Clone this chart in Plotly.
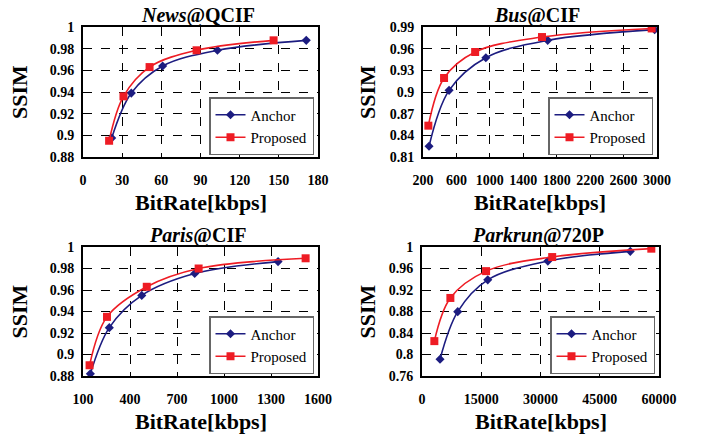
import plotly.graph_objects as go

# ---------------- data ----------------
news_anchor_x = [22, 37, 61, 103, 171]
news_anchor_y = [0.8975, 0.939, 0.964, 0.9785, 0.9877]
news_prop_x = [20, 31, 51, 87, 146]
news_prop_y = [0.895, 0.936, 0.963, 0.9785, 0.9877]

bus_anchor_x = [272, 512, 952, 1692, 2972]
bus_anchor_y = [0.8248, 0.9023, 0.9475, 0.9715, 0.9863]
bus_prop_x = [264, 452, 824, 1624, 2936]
bus_prop_y = [0.8534, 0.9194, 0.9554, 0.9761, 0.988]

paris_anchor_x = [147, 268, 475, 813, 1345]
paris_anchor_y = [0.882, 0.925, 0.955, 0.9753, 0.9864]
paris_prop_x = [142, 253, 507, 838, 1521]
paris_prop_y = [0.890, 0.935, 0.963, 0.980, 0.9895]

park_anchor_x = [4563, 9042, 16648, 31859, 52732]
park_anchor_y = [0.7912, 0.8797, 0.9389, 0.9738, 0.9919]
park_prop_x = [3127, 7183, 16225, 32958, 58056]
park_prop_y = [0.8249, 0.9052, 0.9551, 0.9813, 0.9969]

titles = ["<b><i>News</i>@QCIF</b>", "<b><i>Bus</i>@CIF</b>",
          "<b><i>Paris</i>@CIF</b>", "<b><i>Parkrun</i>@720P</b>"]

news_xticks = [0, 30, 60, 90, 120, 150, 180]
news_yticks = [0.88, 0.9, 0.92, 0.94, 0.96, 0.98, 1]
news_yticktext = ["0.88", "0.9", "0.92", "0.94", "0.96", "0.98", "1"]

bus_xticks = [200, 600, 1000, 1400, 1800, 2200, 2600, 3000]
bus_yticks = [0.81, 0.84, 0.87, 0.9, 0.93, 0.96, 0.99]
bus_yticktext = ["0.81", "0.84", "0.87", "0.9", "0.93", "0.96", "0.99"]

paris_xticks = [100, 400, 700, 1000, 1300, 1600]
paris_yticks = [0.88, 0.9, 0.92, 0.94, 0.96, 0.98, 1]
paris_yticktext = ["0.88", "0.9", "0.92", "0.94", "0.96", "0.98", "1"]

park_xticks = [0, 15000, 30000, 45000, 60000]
park_yticks = [0.76, 0.8, 0.84, 0.88, 0.92, 0.96, 1]
park_yticktext = ["0.76", "0.8", "0.84", "0.88", "0.92", "0.96", "1"]

series_names = ["Anchor", "Proposed"]
x_title = "BitRate[kbps]"
y_title = "SSIM"

# ---------------- style ----------------
OFF = 8                       # page body margin in the browser
W, H = 706 - OFF, 437 - OFF   # figure size so the page fits the window
FONT = "Liberation Serif"
ANCHOR_COLOR = "#1C1C80"
PROP_COLOR = "#EE1C24"


def px_x(X):
    return (X - OFF) / W


def px_y(Y):
    return 1 - (Y - OFF) / H


# plot areas in window pixels: (left, right, top, bottom)
boxes = [(83, 318, 27, 157), (423, 657, 27, 157),
         (83, 318, 247, 376), (422, 659, 247, 376)]
ranges_x = [[0, 180], [200, 3000], [100, 1600], [0, 60000]]
ranges_y = [[0.88, 1.0], [0.81, 0.99], [0.88, 1.0], [0.76, 1.0]]
xticks = [news_xticks, bus_xticks, paris_xticks, park_xticks]
yticks = [news_yticks, bus_yticks, paris_yticks, park_yticks]
ytext = [news_yticktext, bus_yticktext, paris_yticktext, park_yticktext]
data = [
    (news_anchor_x, news_anchor_y, news_prop_x, news_prop_y),
    (bus_anchor_x, bus_anchor_y, bus_prop_x, bus_prop_y),
    (paris_anchor_x, paris_anchor_y, paris_prop_x, paris_prop_y),
    (park_anchor_x, park_anchor_y, park_prop_x, park_prop_y),
]
ylab_x = [19, 367, 19, 367]

fig = go.Figure()
layout = dict(
    width=W, height=H, margin=dict(l=0, r=0, t=0, b=0, autoexpand=False),
    paper_bgcolor="white", plot_bgcolor="white",
    font=dict(family=FONT, color="black"),
    showlegend=True,
)
annotations = []

for i in range(4):
    n = "" if i == 0 else str(i + 1)
    l, r, t, b = boxes[i]
    ax, ay, px, py = data[i]
    leg = "legend" if i == 0 else "legend" + str(i + 1)
    fig.add_trace(go.Scatter(
        x=ax, y=ay, name=series_names[0], mode="lines+markers",
        line=dict(color=ANCHOR_COLOR, width=1.6, shape="spline", smoothing=1),
        marker=dict(symbol="diamond", size=7, color=ANCHOR_COLOR),
        xaxis="x" + n, yaxis="y" + n, legend=leg))
    fig.add_trace(go.Scatter(
        x=px, y=py, name=series_names[1], mode="lines+markers",
        line=dict(color=PROP_COLOR, width=1.6, shape="spline", smoothing=1),
        marker=dict(symbol="square", size=8, color=PROP_COLOR),
        xaxis="x" + n, yaxis="y" + n, legend=leg))

    common = dict(
        showline=True, linecolor="black", linewidth=2, mirror=True,
        showgrid=True, gridcolor="black", gridwidth=0.8, griddash="dash",
        zeroline=False, ticks="inside", ticklen=4, tickcolor="black",
        tickfont=dict(family=FONT, size=14, weight="bold", color="black"),
        automargin=False,
    )
    layout["xaxis" + n] = dict(
        common, domain=[px_x(l), px_x(r)], range=ranges_x[i], anchor="y" + n,
        tickmode="array", tickvals=xticks[i],
        ticktext=[str(v) for v in xticks[i]], ticklabelstandoff=9)
    layout["yaxis" + n] = dict(
        common, domain=[px_y(b), px_y(t)], range=ranges_y[i], anchor="x" + n,
        tickmode="array", tickvals=yticks[i], ticktext=ytext[i],
        ticklabelstandoff=4)
    layout[leg] = dict(
        x=px_x(r - 4), y=px_y(b - 2), xanchor="right", yanchor="bottom",
        bgcolor="white", bordercolor="#666666", borderwidth=1.5,
        font=dict(family=FONT, size=15, color="black"),
        tracegroupgap=0, itemwidth=30)

    cx = (l + r) / 2
    annotations.append(dict(
        text=titles[i], x=px_x(cx - 3), y=px_y(t - 11.5), xref="paper", yref="paper",
        showarrow=False, font=dict(family=FONT, size=20, color="black"),
        xanchor="center", yanchor="middle", borderpad=0))
    annotations.append(dict(
        text="<b>" + x_title + "</b>", x=px_x(cx), y=px_y(b + 45),
        xref="paper", yref="paper", showarrow=False,
        font=dict(family=FONT, size=22, color="black"),
        xanchor="center", yanchor="middle"))
    annotations.append(dict(
        text="<b>" + y_title + "</b>", x=px_x(ylab_x[i]), y=px_y((t + b) / 2),
        xref="paper", yref="paper", showarrow=False, textangle=-90,
        font=dict(family=FONT, size=22, color="black"),
        xanchor="center", yanchor="middle"))

layout["annotations"] = annotations
fig.update_layout(**layout)
fig.write_html("out.html")
